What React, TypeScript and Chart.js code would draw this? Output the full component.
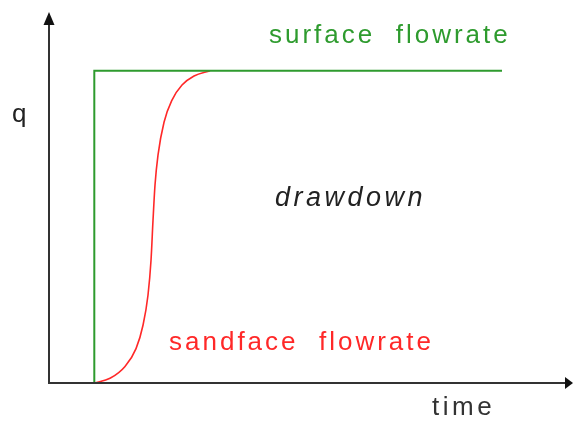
import React, { useEffect, useRef } from "react";
import { Chart, registerables } from "chart.js";

Chart.register(...registerables);

// Surface rate: an instantaneous step at t = 1 up to the full rate.
const surfaceTime = [1, 1, 10];
const surfaceRate = [0, 1, 1];

// Sandface rate: lags behind the surface rate because of wellbore storage.
const sandfaceTime = [1.0, 1.347, 1.678, 1.921, 2.075, 2.185, 2.252, 2.296, 2.34, 2.406, 2.539, 2.715, 2.936, 3.201, 3.554];
const sandfaceRate = [0, 0.015, 0.053, 0.11, 0.185, 0.281, 0.393, 0.521, 0.634, 0.73, 0.835, 0.906, 0.954, 0.983, 1.0];

const TIME_MAX = 11.567;
const RATE_MAX = 1.188;

const GREEN = "rgb(46,155,46)";
const RED = "rgb(255,40,40)";
const AXIS = "#333333";
const FONT = '"Liberation Sans", Arial, sans-serif';

const axesAndLabels = {
  id: "axesAndLabels",
  afterDatasetsDraw(chart: any) {
    const { ctx, scales } = chart;
    const x = scales.x;
    const y = scales.y;
    const x0 = x.getPixelForValue(0);
    const y0 = y.getPixelForValue(0);
    const xEnd = x.getPixelForValue(TIME_MAX);
    const yEnd = y.getPixelForValue(RATE_MAX);

    ctx.save();
    ctx.strokeStyle = AXIS;
    ctx.fillStyle = "#111";
    ctx.lineWidth = 2;
    // vertical axis with arrow
    ctx.beginPath();
    ctx.moveTo(x0, y0 + 1);
    ctx.lineTo(x0, yEnd + 10);
    ctx.stroke();
    ctx.beginPath();
    ctx.moveTo(x0, yEnd);
    ctx.lineTo(x0 - 5.5, yEnd + 13);
    ctx.lineTo(x0 + 5.5, yEnd + 13);
    ctx.closePath();
    ctx.fill();
    // horizontal axis with arrow
    ctx.beginPath();
    ctx.moveTo(x0 - 1, y0);
    ctx.lineTo(xEnd - 6, y0);
    ctx.stroke();
    ctx.beginPath();
    ctx.moveTo(xEnd, y0);
    ctx.lineTo(xEnd - 8, y0 - 6);
    ctx.lineTo(xEnd - 8, y0 + 6);
    ctx.closePath();
    ctx.fill();

    const label = (text: string, px: number, py: number, color: string, size: number, spacing: number, italic = false) => {
      ctx.font = `${italic ? "italic " : ""}${size}px ${FONT}`;
      (ctx as any).letterSpacing = `${spacing}px`;
      ctx.fillStyle = color;
      ctx.textAlign = "left";
      ctx.textBaseline = "alphabetic";
      ctx.fillText(text, px, py);
    };
    label("surface  flowrate", 269, 43, GREEN, 26, 3);
    label("q", 12, 122, "#222", 26, 3);
    label("drawdown", 275, 206, "#222", 27, 3.5, true);
    label("sandface  flowrate", 169, 350, RED, 26, 3);
    label("time", 432, 415, AXIS, 26, 3.5);
    ctx.restore();
  },
};

export default function App() {
  const canvasRef = useRef<HTMLCanvasElement | null>(null);

  useEffect(() => {
    document.body.style.margin = "0";
    const canvas = canvasRef.current;
    if (!canvas) return;
    const chart = new Chart(canvas, {
      type: "scatter",
      data: {
        datasets: [
          {
            label: "surface flowrate",
            data: surfaceTime.map((t, i) => ({ x: t, y: surfaceRate[i] })),
            showLine: true,
            borderColor: GREEN,
            borderWidth: 2,
            pointRadius: 0,
            tension: 0,
          },
          {
            label: "sandface flowrate",
            data: sandfaceTime.map((t, i) => ({ x: t, y: sandfaceRate[i] })),
            showLine: true,
            borderColor: RED,
            borderWidth: 1.6,
            pointRadius: 0,
            cubicInterpolationMode: "monotone",
          },
        ],
      },
      options: {
        animation: false,
        responsive: false,
        devicePixelRatio: 1,
        layout: { padding: { left: 49, right: 0, top: 12, bottom: 38 } },
        plugins: { legend: { display: false }, tooltip: { enabled: false } },
        scales: {
          x: { type: "linear", min: 0, max: TIME_MAX, display: false },
          y: { type: "linear", min: 0, max: RATE_MAX, display: false },
        },
      },
      plugins: [axesAndLabels],
    });
    return () => chart.destroy();
  }, []);

  return <canvas ref={canvasRef} width={573} height={421} style={{ display: "block" }} />;
}
